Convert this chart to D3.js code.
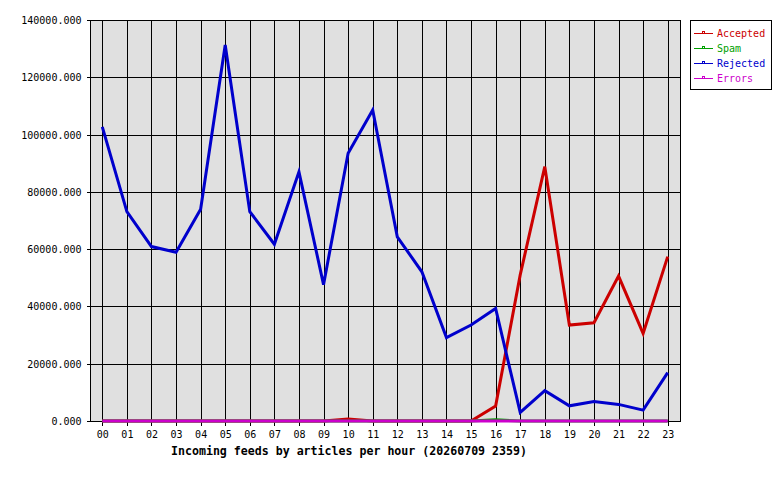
<!DOCTYPE html>
<html><head><meta charset="utf-8">
<script src="https://cdn.jsdelivr.net/npm/d3@7"></script>
<style>body{margin:0;background:#fff}svg{display:block}</style>
</head><body>
<svg id="c" width="780" height="480"></svg>
<script>
const hours = ["00","01","02","03","04","05","06","07","08","09","10","11","12","13","14","15","16","17","18","19","20","21","22","23"];
const accepted = [0,0,0,0,0,0,0,0,0,0,700,0,0,0,0,0,5200,51000,88800,33500,34300,50600,30600,57400];
const spam     = [0,0,0,0,0,0,0,0,0,0,0,0,0,0,0,0,400,0,0,0,0,0,0,0];
const rejected = [102700,73100,60900,58900,73900,131300,73100,61700,87000,47600,93500,108600,64300,52100,29100,33500,39300,3000,10600,5300,6800,5800,3800,16900];
const errors   = [0,0,0,0,0,0,0,0,0,0,0,0,0,0,0,0,0,0,0,0,0,0,0,0];
const yTicks = [0,20000,40000,60000,80000,100000,120000,140000];
const seriesNames = ["Accepted","Spam","Rejected","Errors"];
const seriesColors = ["#cc0000","#00a000","#0000cc","#cc00cc"];
const title = "Incoming feeds by articles per hour (20260709 2359)";

const series = [accepted, spam, rejected, errors];
const svg = d3.select("#c");
const L=90, R=680, T=20, B=421;
const x = d3.scalePoint().domain(hours).range([L,R]).padding(0.5);
const y = d3.scaleLinear().domain([0,140000]).range([B,T]);
const font = "'DejaVu Sans Mono', monospace";

svg.append("rect").attr("x",L).attr("y",T).attr("width",R-L).attr("height",B-T).attr("fill","#e0e0e0");

const g = svg.append("g").attr("shape-rendering","crispEdges");
g.selectAll("line.h").data(yTicks).join("line")
  .attr("x1",L).attr("x2",R).attr("y1",d=>Math.round(y(d))+0.5).attr("y2",d=>Math.round(y(d))+0.5)
  .attr("stroke","#000");
g.selectAll("line.v").data(hours).join("line")
  .attr("x1",d=>Math.round(x(d))+0.5).attr("x2",d=>Math.round(x(d))+0.5).attr("y1",T).attr("y2",B)
  .attr("stroke","#000");
g.append("rect").attr("x",L+0.5).attr("y",T+0.5).attr("width",R-L).attr("height",B-T)
  .attr("fill","none").attr("stroke","#000");

// axes
const yAxis = svg.append("g").attr("transform",`translate(${L+0.5},0)`)
  .call(d3.axisLeft(y).tickValues(yTicks).tickFormat(d3.format(".3f")).tickSize(4).tickPadding(5));
const xAxis = svg.append("g").attr("transform",`translate(0,${B+0.5})`)
  .call(d3.axisBottom(x).tickSize(4).tickPadding(5));
[yAxis,xAxis].forEach(a=>{
  a.select(".domain").remove();
  a.selectAll(".tick line").attr("stroke","#000").attr("shape-rendering","crispEdges");
  a.selectAll("text").attr("font-family",font).attr("font-size",10).attr("fill","#000");
});
yAxis.selectAll(".tick text").attr("dy","0.35em");

const line = d3.line().x((d,i)=>x(hours[i])).y(d=>y(d));
series.forEach((s,k)=>{
  svg.append("path").datum(s).attr("d",line).attr("fill","none")
    .attr("stroke",seriesColors[k]).attr("stroke-width",3).attr("stroke-linejoin","miter");
});

svg.append("text").attr("x",349).attr("y",455).attr("text-anchor","middle")
  .attr("font-family",font).attr("font-size",11.6).attr("font-weight","bold").text(title);

// legend
const lg = svg.append("g");
lg.append("rect").attr("x",690.5).attr("y",20.5).attr("width",81).attr("height",69)
  .attr("fill","#fff").attr("stroke","#000").attr("shape-rendering","crispEdges");
seriesNames.forEach((n,k)=>{
  const yy = 33 + k*15;
  lg.append("line").attr("x1",694).attr("x2",713).attr("y1",yy+0.5).attr("y2",yy+0.5)
    .attr("stroke",seriesColors[k]).attr("shape-rendering","crispEdges");
  lg.append("rect").attr("x",702.5).attr("y",yy-1.5).attr("width",2).attr("height",2)
    .attr("fill","none").attr("stroke",seriesColors[k]).attr("shape-rendering","crispEdges");
  lg.append("text").attr("x",717).attr("y",yy+4).attr("font-family",font).attr("font-size",10)
    .attr("fill",seriesColors[k]).text(n);
});
</script>
</body></html>
